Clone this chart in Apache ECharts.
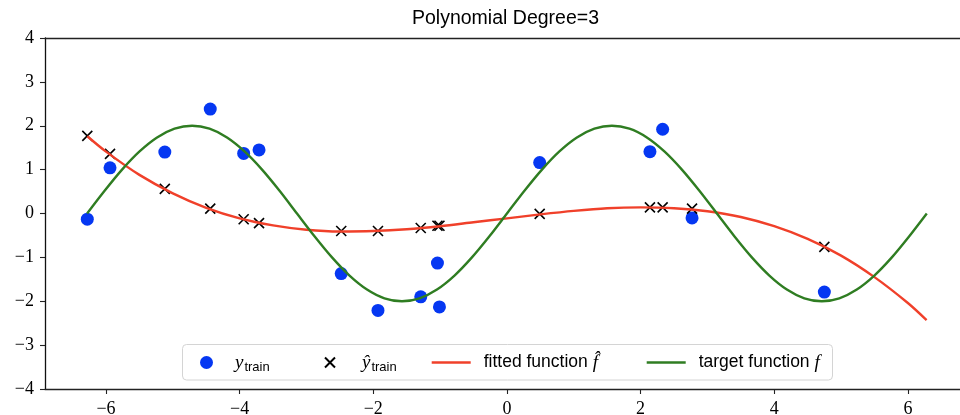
<!DOCTYPE html>
<html>
<head>
<meta charset="utf-8">
<script src="https://cdn.jsdelivr.net/npm/echarts@6/dist/echarts.min.js"></script>
<style>html,body{margin:0;padding:0;background:#fff}#c{width:960px;height:415px}</style>
</head>
<body>
<div id="c"></div>
<script>
// ---- data ----
const xTrain = [-6.28, -5.94, -5.12, -4.44, -3.94, -3.71, -2.48, -1.93, -1.29, -1.04, -1.01, 0.49, 2.14, 2.33, 2.77, 4.75];
const yTrain = [-0.13, 1.04, 1.40, 2.38, 1.37, 1.45, -1.37, -2.21, -1.90, -1.13, -2.13, 1.16, 1.41, 1.92, -0.10, -1.79];
const yHatTrain = [1.77, 1.36, 0.56, 0.11, -0.13, -0.22, -0.40, -0.40, -0.33, -0.28, -0.28, -0.01, 0.14, 0.14, 0.11, -0.76];

const xFit = [-6.28, -6.0, -5.5, -5.0, -4.5, -4.0, -3.5, -3.0, -2.5, -2.0, -1.5, -1.0, -0.5, 0, 0.5, 1.0, 1.5, 2.0, 2.5, 3.0, 3.5, 4.0, 4.5, 5.0, 5.5, 6.0, 6.28];
const yFit = [1.76, 1.41, 0.88, 0.46, 0.13, -0.11, -0.27, -0.37, -0.41, -0.40, -0.36, -0.29, -0.20, -0.11, -0.02, 0.06, 0.12, 0.14, 0.12, 0.05, -0.08, -0.29, -0.58, -0.96, -1.45, -2.04, -2.43];

const xTarget = [-6.283,-6.021,-5.760,-5.498,-5.236,-4.974,-4.712,-4.451,-4.189,-3.927,-3.665,-3.403,-3.142,-2.880,-2.618,-2.356,-2.094,-1.833,-1.571,-1.309,-1.047,-0.785,-0.524,-0.262,0,0.262,0.524,0.785,1.047,1.309,1.571,1.833,2.094,2.356,2.618,2.880,3.142,3.403,3.665,3.927,4.189,4.451,4.712,4.974,5.236,5.498,5.760,6.021,6.283];
const yTarget = [0,0.518,1,1.414,1.732,1.932,2,1.932,1.732,1.414,1,0.518,0,-0.518,-1,-1.414,-1.732,-1.932,-2,-1.932,-1.732,-1.414,-1,-0.518,0,0.518,1,1.414,1.732,1.932,2,1.932,1.732,1.414,1,0.518,0,-0.518,-1,-1.414,-1.732,-1.932,-2,-1.932,-1.732,-1.414,-1,-0.518,0];

const xTicks = [-6, -4, -2, 0, 2, 4, 6];
const titleText = 'Polynomial Degree=3';
// ---------------------------------------

const zip = (a, b) => a.map((v, i) => [v, b[i]]);
const minus = v => String(v).replace('-', '\u2212');
const CROSS = 'path://M0,0L10,10M10,0L0,10';
const BLUE = '#0537f2', RED = '#f0402a', GREEN = '#2f7d22';
const SERIF = 'Liberation Serif', SANS = 'Liberation Sans';

const chart = echarts.init(document.getElementById('c'), null, {renderer: 'canvas'});

const mathRich = {
  m: {fontFamily: SERIF, fontStyle: 'italic', fontSize: 19, color: '#000'},
  s: {fontFamily: SANS, fontSize: 13, color: '#000', padding: [9, 0, 0, 1]},
  t: {fontFamily: SANS, fontSize: 17.5, color: '#000'}
};
function legendBase(left, w, h, name, extra) {
  return Object.assign({
    left: left, top: 353, padding: 0, itemGap: 0, orient: 'horizontal',
    itemWidth: w, itemHeight: h, z: 10, selectedMode: false,
    data: [name],
    textStyle: {rich: mathRich}
  }, extra || {});
}
function withPad(key, pad) {
  const r = Object.assign({}, mathRich);
  r[key] = Object.assign({}, mathRich[key], {padding: [0, 0, 0, pad]});
  return {rich: r};
}

chart.setOption({
  animation: false,
  backgroundColor: '#fff',
  title: {
    text: titleText, left: 412, top: 9, padding: 0,
    textStyle: {fontFamily: SANS, fontSize: 19.5, fontWeight: 'normal', color: '#000'}
  },
  grid: {left: 45, right: 0, top: 38, bottom: 26, containLabel: false, outerBoundsMode: 'none'},
  xAxis: [{
    type: 'value', min: -6.913, max: 6.78, position: 'bottom',
    axisLine: {show: true, onZero: false, lineStyle: {color: '#222', width: 1.3}},
    axisTick: {show: true, inside: false, length: 5, customValues: xTicks, lineStyle: {color: '#222', width: 1.1}},
    axisLabel: {customValues: xTicks, formatter: minus, fontFamily: SERIF, fontSize: 18, color: '#000', margin: 11},
    splitLine: {show: false}
  }, {
    type: 'value', min: -6.913, max: 6.78, position: 'top',
    axisLine: {show: true, onZero: false, lineStyle: {color: '#222', width: 1.3}},
    axisTick: {show: false}, axisLabel: {show: false}, splitLine: {show: false}
  }],
  yAxis: {
    type: 'value', min: -4, max: 4, interval: 1,
    axisLine: {show: true, onZero: false, lineStyle: {color: '#111', width: 1.3}},
    axisTick: {show: true, inside: false, length: 5, lineStyle: {color: '#222', width: 1.1}},
    axisLabel: {formatter: minus, fontFamily: SERIF, fontSize: 18, color: '#000', margin: 11},
    splitLine: {show: false}
  },
  legend: [
    legendBase(200, 13, 13, 'y_train', {formatter: () => '{m|y}{s|train}', textStyle: withPad('m', 17)}),
    legendBase(324, 10, 10, 'yhat_train', {formatter: () => '{m|\u0177}{s|train}', textStyle: withPad('m', 22)}),
    legendBase(431.7, 39, 2.4, 'fitted', {icon: 'rect', formatter: () => '{t|fitted function }{m|f\u0302}', textStyle: withPad('t', 8)}),
    legendBase(646.7, 39, 2.4, 'target', {icon: 'rect', formatter: () => '{t|target function }{m|f}', textStyle: withPad('t', 8)})
  ],
  graphic: [{
    type: 'rect', z: 5,
    shape: {x: 182.5, y: 344.5, width: 650, height: 35.5, r: 4},
    style: {fill: 'rgba(255,255,255,0.85)', stroke: '#d4d4d4', lineWidth: 1}
  }],
  series: [
    {
      name: 'y_train', type: 'scatter', z: 1, symbol: 'circle', symbolSize: 13,
      itemStyle: {color: BLUE, opacity: 1},
      data: zip(xTrain, yTrain)
    },
    {
      name: 'yhat_train', type: 'scatter', z: 2, symbol: CROSS, symbolSize: 10,
      itemStyle: {color: 'rgba(0,0,0,0)', borderColor: '#000', borderWidth: 1.6, opacity: 1},
      data: zip(xTrain, yHatTrain)
    },
    {
      name: 'fitted', type: 'line', z: 3, symbol: 'none', smooth: 0.3,
      lineStyle: {color: RED, width: 2.4}, itemStyle: {color: RED},
      data: zip(xFit, yFit)
    },
    {
      name: 'target', type: 'line', z: 4, symbol: 'none', smooth: 0.3,
      lineStyle: {color: GREEN, width: 2.4}, itemStyle: {color: GREEN},
      data: zip(xTarget, yTarget)
    }
  ]
});
</script>
</body>
</html>
